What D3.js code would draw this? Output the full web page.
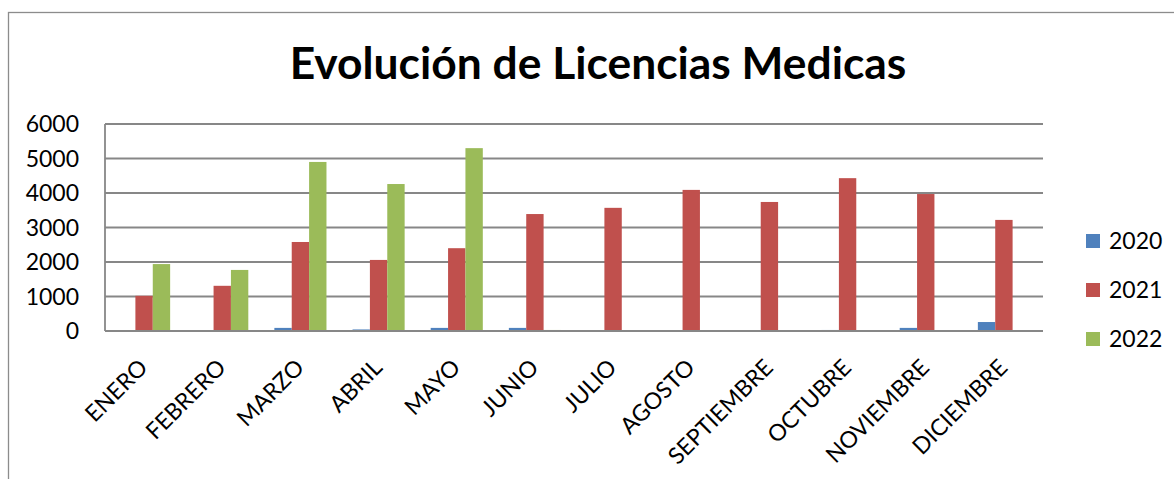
<!DOCTYPE html>
<html><head><meta charset="utf-8">
<script src="https://cdn.jsdelivr.net/npm/d3@7"></script>
<style>html,body{margin:0;padding:0;background:#fff;overflow:hidden}</style>
</head><body>
<svg id="c" width="1174" height="479"></svg>
<script>
const months = ["ENERO","FEBRERO","MARZO","ABRIL","MAYO","JUNIO","JULIO","AGOSTO","SEPTIEMBRE","OCTUBRE","NOVIEMBRE","DICIEMBRE"];
const seriesNames = ["2020","2021","2022"];
const values2020 = [0,0,90,45,90,90,0,0,0,30,90,260];
const values2021 = [1020,1310,2580,2060,2400,3390,3570,4090,3740,4430,3970,3220];
const values2022 = [1940,1770,4900,4260,5300,30,0,0,0,0,0,0];
const yTicks = [0,1000,2000,3000,4000,5000,6000];
const colors = ["#4F81BD","#C0504D","#9BBB59"];
const titleText = "Evolución de Licencias Medicas";

const series = [values2020, values2021, values2022];
const svg = d3.select("#c");
const FONT = "Lato, 'Open Sans', sans-serif";
const L = 105, R = 1043, T = 124, B = 331;

// outer chart border
svg.append("rect").attr("x",8.5).attr("y",12.5).attr("width",1200).attr("height",600)
  .attr("fill","none").attr("stroke","#8c8c8c").attr("stroke-width",1.3);

const x0 = d3.scaleBand().domain(months).range([L,R]).paddingInner(0).paddingOuter(0);
const x1 = d3.scaleBand().domain(seriesNames).range([0,x0.bandwidth()]).paddingInner(0).paddingOuter(1.5/6*2/2);
// band: group of 3 bars occupies 3/4.5 of step
x1.range([x0.bandwidth()*0.75/4.5, x0.bandwidth()*(1-0.75/4.5)]).paddingOuter(0);
const y = d3.scaleLinear().domain([0,6000]).range([B,T]);

// gridlines
svg.append("g").selectAll("line").data(yTicks).join("line")
  .attr("x1",L).attr("x2",R).attr("y1",d=>y(d)).attr("y2",d=>y(d))
  .attr("stroke","#878787").attr("stroke-width",1.8);
svg.append("line").attr("x1",L).attr("x2",L).attr("y1",T).attr("y2",B)
  .attr("stroke","#878787").attr("stroke-width",1.8);

// bars
const g = svg.append("g");
months.forEach((m,i)=>{
  series.forEach((s,k)=>{
    const v = s[i];
    if(!v) return;
    g.append("rect").attr("x",x0(m)+x1(seriesNames[k])).attr("width",x1.bandwidth())
      .attr("y",y(v)).attr("height",y(0)-y(v)).attr("fill",colors[k]);
  });
});
// baseline over bars
svg.append("line").attr("x1",L).attr("x2",R).attr("y1",B).attr("y2",B)
  .attr("stroke","#878787").attr("stroke-width",1.8);

// y labels
svg.append("g").selectAll("text").data(yTicks).join("text")
  .attr("x",79).attr("y",d=>y(d)).attr("dy","0.36em").attr("text-anchor","end")
  .attr("font-family",FONT).attr("font-size",23).attr("fill","#000").text(d=>d);

// x labels
svg.append("g").selectAll("text").data(months).join("text")
  .attr("text-anchor","end").attr("font-family",FONT).attr("font-size",23).attr("fill","#000")
  .attr("transform",d=>`translate(${x0(d)+x0.bandwidth()/2+5},${B+38}) rotate(-45)`)
  .text(d=>d);

// title
const title = svg.append("text").attr("x",598).attr("y",79).attr("text-anchor","middle")
  .attr("font-family",FONT).attr("font-weight","bold").attr("font-size",46).attr("fill","#000")
  .text(titleText);
const tw = title.node().getComputedTextLength();
title.attr("font-size", 46*617/tw);

// legend
const leg = svg.append("g");
const legY = [241,290,339];
seriesNames.forEach((n,k)=>{
  leg.append("rect").attr("x",1086).attr("y",legY[k]-7).attr("width",14).attr("height",14).attr("fill",colors[k]);
  leg.append("text").attr("x",1109).attr("y",legY[k]).attr("dy","0.36em")
    .attr("font-family",FONT).attr("font-size",23).attr("fill","#000").text(n);
});
</script>
</body></html>
